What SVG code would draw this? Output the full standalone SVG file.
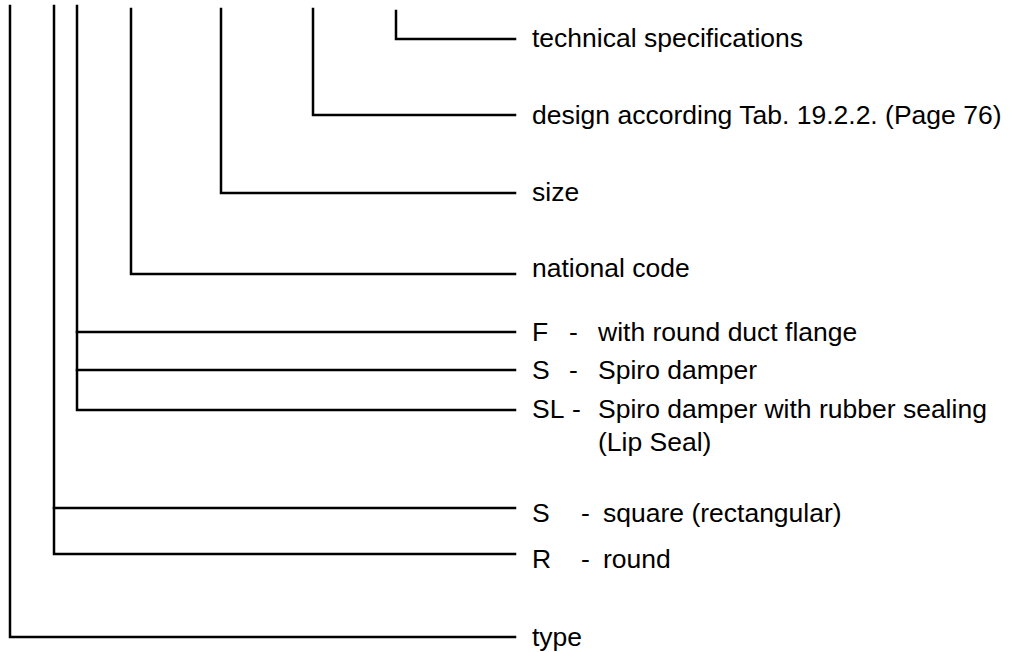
<svg xmlns="http://www.w3.org/2000/svg" width="1011" height="652" viewBox="0 0 1011 652">
<style>
.ln{stroke:#000;stroke-width:2.5;fill:none;stroke-linecap:square}
.t{font-family:"Liberation Sans",Arial,sans-serif;font-size:26.5px;fill:#000}
</style>
<rect width="1011" height="652" fill="#fff"/>
<g id="connectors">
<polyline class="ln" points="396,11 396,39 515,39"/>
<polyline class="ln" points="313,9 313,115 515,115"/>
<polyline class="ln" points="221,9 221,193 515,193"/>
<polyline class="ln" points="131,9 131,274 515,274"/>
<polyline class="ln" points="77,6 77,410 515,410"/>
<line class="ln" x1="77" y1="332" x2="515" y2="332"/>
<line class="ln" x1="77" y1="370" x2="515" y2="370"/>
<polyline class="ln" points="54,6 54,554 515,554"/>
<line class="ln" x1="54" y1="508" x2="515" y2="508"/>
<polyline class="ln" points="10,6 10,637 515,637"/>
</g>
<g id="technical"><text class="t" x="532" y="47">technical specifications</text></g>
<g id="design"><text class="t" x="532" y="124">design according Tab. 19.2.2. (Page 76)</text></g>
<g id="size"><text class="t" x="532" y="201">size</text></g>
<g id="national"><text class="t" x="532" y="277">national code</text></g>
<g id="opt-F"><text class="t" x="532" y="341">F</text><text class="t" x="569" y="341">-</text><text class="t" x="598" y="341">with round duct flange</text></g>
<g id="opt-S"><text class="t" x="532" y="379">S</text><text class="t" x="569" y="379">-</text><text class="t" x="598" y="379">Spiro damper</text></g>
<g id="opt-SL"><text class="t" x="532" y="418">SL</text><text class="t" x="572" y="418">-</text><text class="t" x="598" y="418">Spiro damper with rubber sealing</text><text class="t" x="598" y="451">(Lip Seal)</text></g>
<g id="shape-S"><text class="t" x="532" y="522">S</text><text class="t" x="581" y="522">-</text><text class="t" x="603" y="522">square (rectangular)</text></g>
<g id="shape-R"><text class="t" x="532" y="568">R</text><text class="t" x="581" y="568">-</text><text class="t" x="603" y="568">round</text></g>
<g id="type"><text class="t" x="532" y="646">type</text></g>
</svg>
